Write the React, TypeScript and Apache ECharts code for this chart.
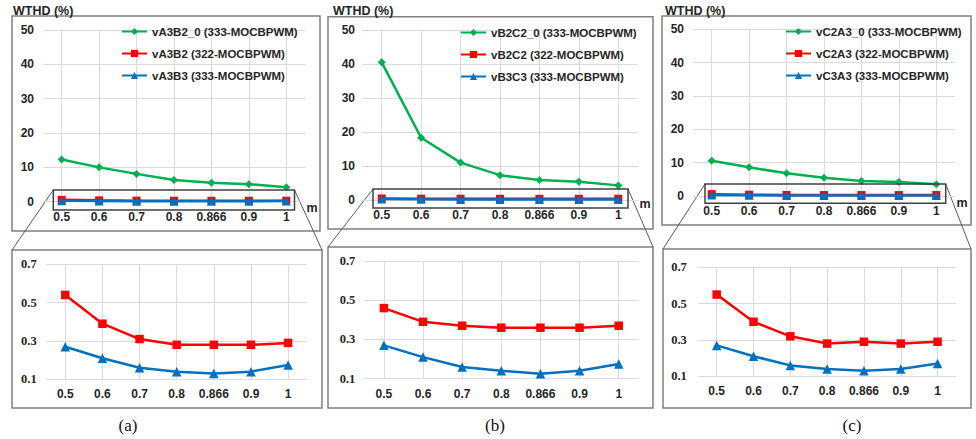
import React, { useEffect, useRef } from "react";
import * as echarts from "echarts";

// Modulation index values shared by every panel
const categories = ["0.5", "0.6", "0.7", "0.8", "0.866", "0.9", "1"];
const topTicks = [0, 10, 20, 30, 40, 50];
const zoomTicks = [0.1, 0.3, 0.5, 0.7];

// Panel (a): line-to-line voltage vA3B2 / vA3B3
const aNames = ["vA3B2_0 (333-MOCBPWM)", "vA3B2 (322-MOCBPWM)", "vA3B3 (333-MOCBPWM)"];
const aGreen = [12.3, 10.0, 8.1, 6.3, 5.5, 5.1, 4.2];
const aRed = [0.54, 0.39, 0.31, 0.28, 0.28, 0.28, 0.29];
const aBlue = [0.27, 0.21, 0.16, 0.14, 0.13, 0.14, 0.175];

// Panel (b): vB2C2 / vB3C3
const bNames = ["vB2C2_0 (333-MOCBPWM)", "vB2C2 (322-MOCBPWM)", "vB3C3 (333-MOCBPWM)"];
const bGreen = [40.5, 18.3, 11.0, 7.3, 5.9, 5.4, 4.3];
const bRed = [0.46, 0.39, 0.37, 0.36, 0.36, 0.36, 0.37];
const bBlue = [0.27, 0.21, 0.16, 0.14, 0.125, 0.14, 0.175];

// Panel (c): vC2A3 / vC3A3
const cNames = ["vC2A3_0 (333-MOCBPWM)", "vC2A3 (322-MOCBPWM)", "vC3A3 (333-MOCBPWM)"];
const cGreen = [10.6, 8.6, 6.8, 5.5, 4.5, 4.2, 3.5];
const cRed = [0.55, 0.40, 0.32, 0.28, 0.29, 0.28, 0.29];
const cBlue = [0.27, 0.21, 0.16, 0.14, 0.13, 0.14, 0.17];

const captions = ["(a)", "(b)", "(c)"];

const GREEN = "#00B050";
const RED = "#FF0000";
const BLUE = "#0070C0";
const TEXT = "#262626";
const SANS = "Liberation Sans, Arial, sans-serif";
const SERIF = "Liberation Serif, Times New Roman, serif";
const GRID_LINE = "#dadada";

type Layout = {
  top: { left: number; top: number; width: number; height: number };
  bottom: { left: number; top: number; width: number; height: number };
  topBox: number[];
  bottomBox: number[];
  zoomRect: number[];
  title: number[];
  caption: number[];
  m: number[];
  legend: number[];
  topLabelMargin: number;
  bottomLabelMargin: number;
};

const layouts: Layout[] = [
  {
    top: { left: 43, top: 30, width: 262, height: 171.7 },
    bottom: { left: 46.7, top: 264.3, width: 260, height: 115 },
    topBox: [12, 16, 308, 215],
    bottomBox: [12, 250, 310, 158],
    zoomRect: [53.3, 190, 241.2, 20],
    title: [13, 11],
    caption: [128, 425],
    m: [312, 208],
    legend: [121, 24.5],
    topLabelMargin: 9,
    bottomLabelMargin: 10,
  },
  {
    top: { left: 362, top: 30, width: 276, height: 170 },
    bottom: { left: 364.3, top: 261, width: 274, height: 117.7 },
    topBox: [328, 16.7, 325, 212.3],
    bottomBox: [328, 247, 325, 161],
    zoomRect: [373, 189, 255, 19],
    title: [333, 11],
    caption: [495, 425],
    m: [645, 204],
    legend: [460, 25.5],
    topLabelMargin: 7,
    bottomLabelMargin: 9,
  },
  {
    top: { left: 693, top: 29.3, width: 262, height: 166.7 },
    bottom: { left: 698.3, top: 267.3, width: 257.7, height: 109 },
    topBox: [662, 16, 309, 209],
    bottomBox: [663, 249, 308, 159],
    zoomRect: [705, 184, 240.7, 19.3],
    title: [665, 11],
    caption: [852, 425],
    m: [962, 203],
    legend: [785, 24.5],
    topLabelMargin: 9,
    bottomLabelMargin: 11.5,
  },
];

const panels = [
  { names: aNames, green: aGreen, red: aRed, blue: aBlue },
  { names: bNames, green: bGreen, red: bRed, blue: bBlue },
  { names: cNames, green: cGreen, red: cRed, blue: cBlue },
];

function buildOption() {
  const grid: any[] = [];
  const xAxis: any[] = [];
  const yAxis: any[] = [];
  const series: any[] = [];
  const legend: any[] = [];
  const graphic: any[] = [];

  const labelStyle = { color: TEXT, fontFamily: SANS, fontWeight: "bold", fontSize: 12 };
  const centerIdx = categories.map((_, i) => i);

  panels.forEach((p, k) => {
    const L = layouts[k];

    // --- grids
    const gTop = grid.length;
    grid.push({ ...L.top, containLabel: false });
    const gBot = grid.length;
    grid.push({ ...L.bottom, containLabel: false });

    // --- top chart axes
    const xTop = xAxis.length;
    xAxis.push({
      type: "category",
      gridIndex: gTop,
      data: categories,
      boundaryGap: true,
      axisLine: { show: false },
      axisTick: { show: false },
      axisLabel: { ...labelStyle, margin: 9, interval: 0 },
      splitLine: { show: false },
    });
    xAxis.push({
      type: "value",
      gridIndex: gTop,
      min: -0.5,
      max: 6.5,
      axisLine: { show: false },
      axisLabel: { show: false },
      axisTick: { show: false, customValues: centerIdx },
      splitLine: { show: true, lineStyle: { color: GRID_LINE, width: 1 } },
    });
    const yTop = yAxis.length;
    yAxis.push({
      type: "value",
      gridIndex: gTop,
      min: topTicks[0],
      max: topTicks[topTicks.length - 1],
      interval: topTicks[1] - topTicks[0],
      axisLine: { show: true, lineStyle: { color: GRID_LINE, width: 1 } },
      axisTick: { show: false },
      axisLabel: { ...labelStyle, margin: L.topLabelMargin },
      splitLine: { show: true, lineStyle: { color: GRID_LINE, width: 1 } },
    });

    // --- bottom (zoomed) chart axes
    const xBot = xAxis.length;
    xAxis.push({
      type: "category",
      gridIndex: gBot,
      data: categories,
      boundaryGap: true,
      axisLine: { show: false },
      axisTick: { show: false },
      axisLabel: { ...labelStyle, margin: 9, interval: 0 },
      splitLine: { show: false },
    });
    xAxis.push({
      type: "value",
      gridIndex: gBot,
      min: -0.5,
      max: 6.5,
      axisLine: { show: false },
      axisLabel: { show: false },
      axisTick: { show: false, customValues: centerIdx },
      splitLine: { show: true, lineStyle: { color: GRID_LINE, width: 1 } },
    });
    const yBot = yAxis.length;
    yAxis.push({
      type: "value",
      gridIndex: gBot,
      min: zoomTicks[0],
      max: zoomTicks[zoomTicks.length - 1],
      axisLine: { show: true, lineStyle: { color: GRID_LINE, width: 1 } },
      axisTick: { show: false, customValues: zoomTicks },
      axisLabel: {
        color: TEXT,
        fontFamily: SERIF,
        fontWeight: "bold",
        fontSize: 12.5,
        margin: L.bottomLabelMargin,
        customValues: zoomTicks,
        formatter: (v: number) => String(Math.round(v * 10) / 10),
      },
      splitLine: { show: true, lineStyle: { color: GRID_LINE, width: 1 } },
    });

    const lineSeries = (name: string, data: number[], color: string, symbol: string, size: number, xi: number, yi: number, z = 3) => ({
      type: "line",
      name,
      data,
      xAxisIndex: xi,
      yAxisIndex: yi,
      symbol,
      symbolSize: size,
      showSymbol: true,
      lineStyle: { color, width: 2.5 },
      itemStyle: { color },
      z,
      silent: true,
    });

    series.push(lineSeries(p.names[0], p.green, GREEN, "diamond", 8, xTop, yTop, 3));
    series.push(lineSeries(p.names[1], p.red, RED, "rect", 8, xTop, yTop, 3));
    series.push(lineSeries(p.names[2], p.blue, BLUE, "triangle", 9, xTop, yTop, 4));
    series.push(lineSeries(p.names[1] + " ", p.red, RED, "rect", 8.5, xBot, yBot, 3));
    series.push(lineSeries(p.names[2] + " ", p.blue, BLUE, "triangle", 9.5, xBot, yBot, 4));

    legend.push({
      data: p.names,
      orient: "vertical",
      left: L.legend[0],
      top: L.legend[1],
      padding: 0,
      itemWidth: 25,
      itemHeight: 9,
      itemGap: 8,
      selectedMode: false,
      textStyle: { color: TEXT, fontFamily: SANS, fontWeight: "bold", fontSize: 11.5, lineHeight: 14 },
    });

    // --- frames, zoom window and connectors
    const [tx, ty, tw, th] = L.topBox;
    const [bx, by, bw, bh] = L.bottomBox;
    const [zx, zy, zw, zh] = L.zoomRect;
    graphic.push(
      { type: "rect", shape: { x: tx, y: ty, width: tw, height: th }, style: { fill: "none", stroke: "#808080", lineWidth: 1.5 }, silent: true },
      { type: "rect", shape: { x: bx, y: by, width: bw, height: bh }, style: { fill: "none", stroke: "#808080", lineWidth: 1.5 }, silent: true },
      { type: "rect", shape: { x: zx, y: zy, width: zw, height: zh }, style: { fill: "none", stroke: "#404040", lineWidth: 1.5 }, silent: true, z: 10 },
      { type: "line", shape: { x1: zx, y1: zy, x2: bx, y2: by }, style: { stroke: "#5a5a5a", lineWidth: 1 }, silent: true },
      { type: "line", shape: { x1: zx + zw, y1: zy, x2: bx + bw, y2: by }, style: { stroke: "#5a5a5a", lineWidth: 1 }, silent: true },
      {
        type: "text",
        x: L.title[0],
        y: L.title[1],
        style: { text: "WTHD (%)", fill: TEXT, font: `bold 12.5px ${SANS}`, verticalAlign: "middle" },
        silent: true,
      },
      {
        type: "text",
        x: L.m[0],
        y: L.m[1],
        style: { text: "m", fill: TEXT, font: `bold 12.5px ${SANS}`, align: "center", verticalAlign: "middle" },
        silent: true,
      },
      {
        type: "text",
        x: L.caption[0],
        y: L.caption[1],
        style: { text: captions[k], fill: "#111", font: `17px ${SERIF}`, align: "center", verticalAlign: "middle" },
        silent: true,
      }
    );
  });

  return {
    animation: false,
    backgroundColor: "#ffffff",
    grid,
    xAxis,
    yAxis,
    series,
    legend,
    graphic,
  };
}

export default function App() {
  const ref = useRef<HTMLDivElement | null>(null);

  useEffect(() => {
    if (!ref.current) return;
    const chart = echarts.init(ref.current, null, { renderer: "svg" });
    chart.setOption(buildOption() as any);
    return () => chart.dispose();
  }, []);

  return (
    <div
      ref={ref}
      style={{ position: "absolute", left: 0, top: 0, width: 976, height: 439, background: "#fff" }}
    />
  );
}
